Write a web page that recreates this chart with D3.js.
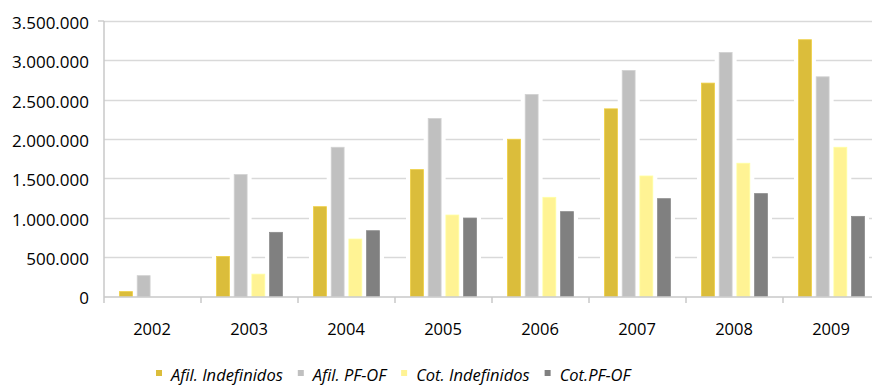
<!DOCTYPE html>
<html><head><meta charset="utf-8">
<script src="https://cdn.jsdelivr.net/npm/d3@7"></script>
<style>
html,body{margin:0;padding:0;background:#fff;}
svg{display:block;}
text{font-family:"Open Sans",sans-serif;fill:#000;}
</style></head>
<body>
<svg id="chart" width="872" height="385"></svg>
<script>
const categories = ["2002","2003","2004","2005","2006","2007","2008","2009"];
const seriesNames = ["Afil. Indefinidos","Afil. PF-OF","Cot. Indefinidos","Cot.PF-OF"];
const afilIndefinidos = [62000, 509000, 1141000, 1612000, 1998000, 2384000, 2711000, 3262000];
const afilPFOF        = [265000, 1549000, 1896000, 2261000, 2567000, 2872000, 3101000, 2791000];
const cotIndefinidos  = [0, 284000, 730000, 1035000, 1260000, 1531000, 1693000, 1896000];
const cotPFOF         = [0, 815000, 836000, 997000, 1078000, 1243000, 1307000, 1018000];
const yTicks = [0, 500000, 1000000, 1500000, 2000000, 2500000, 3000000, 3500000];
const colors = ["#DBBD3B", "#C0C0C0", "#FFF394", "#808080"];

const seriesValues = [afilIndefinidos, afilPFOF, cotIndefinidos, cotPFOF];
const svg = d3.select("#chart");

const x0 = d3.scaleBand().domain(categories).range([104, 880]).padding(0);
const x1 = d3.scaleBand().domain(seriesNames).range([15.5, 81.5]).paddingInner(0.27).paddingOuter(0);
const y = d3.scaleLinear().domain([0, 3500000]).range([296.5, 21]);

const fmt = v => d3.format(",")(v).replace(/,/g, ".");

// gridlines
svg.append("g").selectAll("line").data(yTicks.filter(d => d > 0)).join("line")
  .attr("x1", 104).attr("x2", 872)
  .attr("y1", d => Math.round(y(d)) + 0.5).attr("y2", d => Math.round(y(d)) + 0.5)
  .attr("stroke", "#D9D9D9").attr("stroke-width", 1.3);

// y axis labels
svg.append("g").selectAll("text").data(yTicks).join("text")
  .attr("x", 89).attr("y", d => y(d) + 2)
  .attr("dy", "0.35em").attr("text-anchor", "end")
  .attr("font-size", "17px")
  .text(fmt);

// bars
const flat = [];
categories.forEach((c, i) => {
  seriesNames.forEach((s, j) => {
    flat.push({cat: c, ser: s, val: seriesValues[j][i], color: colors[j]});
  });
});
const bars = flat.filter(d => d.val > 0);
const gB = svg.append("g");
// white halo that breaks the gridlines
gB.selectAll("rect.halo").data(bars).join("rect").attr("class", "halo")
  .attr("x", d => x0(d.cat) + x1(d.ser) - 4.5)
  .attr("y", d => y(d.val) - 2)
  .attr("width", x1.bandwidth() + 9)
  .attr("height", d => y(0) - y(d.val) + 2)
  .attr("fill", "#fff");
gB.selectAll("rect.bar").data(bars).join("rect").attr("class", "bar")
  .attr("x", d => x0(d.cat) + x1(d.ser))
  .attr("y", d => y(d.val))
  .attr("width", x1.bandwidth())
  .attr("height", d => y(0) - y(d.val))
  .attr("fill", d => d.color)
  .attr("stroke", d => d3.color(d.color).brighter(0.25))
  .attr("stroke-width", 0.8);

// axes lines
svg.append("line").attr("x1", 104).attr("x2", 104).attr("y1", 21).attr("y2", 303)
  .attr("stroke", "#C8C8C8").attr("stroke-width", 1.5);
svg.append("line").attr("x1", 98).attr("x2", 104).attr("y1", 21).attr("y2", 21)
  .attr("stroke", "#C8C8C8").attr("stroke-width", 1.3);
svg.append("line").attr("x1", 104).attr("x2", 872).attr("y1", 297).attr("y2", 297)
  .attr("stroke", "#C8C8C8").attr("stroke-width", 1.5);
svg.append("g").selectAll("line").data(categories.slice(1)).join("line")
  .attr("x1", d => x0(d)).attr("x2", d => x0(d))
  .attr("y1", 297).attr("y2", 303)
  .attr("stroke", "#C8C8C8").attr("stroke-width", 1.5);

// x labels
svg.append("g").selectAll("text").data(categories).join("text")
  .attr("x", d => x0(d) + x0.bandwidth() / 2 - 0.5)
  .attr("y", 335)
  .attr("text-anchor", "middle")
  .attr("font-size", "16.5px")
  .text(d => d);

// legend
const lg = svg.append("g");
let lx = 156;
seriesNames.forEach((s, j) => {
  lg.append("rect").attr("x", lx).attr("y", 370).attr("width", 6).attr("height", 6).attr("fill", colors[j]);
  const t = lg.append("text").attr("x", lx + 15).attr("y", 380.5)
    .attr("font-size", "16.5px").attr("font-style", "italic").text(s);
  lx = lx + 15 + t.node().getComputedTextLength() + 15;
});
</script>
</body></html>
